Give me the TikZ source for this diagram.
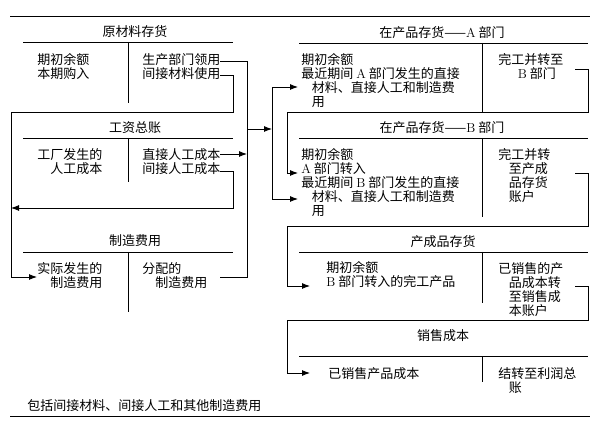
\documentclass[tikz,border=0pt]{standalone}
\usepackage{fontspec}
\newfontfamily\cjk{Noto Sans CJK SC}
\usetikzlibrary{arrows.meta}

\begin{document}
\begin{tikzpicture}[x=1pt, y=-1pt, line width=0.9pt,
    txt/.style={anchor=north west, inner sep=0pt, align=left, font=\cjk\fontsize{13}{14}\selectfont},
    ttl/.style={inner sep=0pt, font=\cjk\fontsize{13}{14}\selectfont},
    arr/.style={-{Latex[length=8pt,width=6pt]}}]
    \useasboundingbox (0,0) rectangle (598,425);

    % Define points
    \coordinate (lingyong) at (220,61);
    \coordinate (jianjieMat) at (220,75);
    \coordinate (zhijieLab) at (220,154);
    \coordinate (jianjieLab) at (220,171);
    \coordinate (fenpei) at (220,277);
    \coordinate (shiji) at (37,277);
    \coordinate (busT) at (247,61);
    \coordinate (busB) at (247,277);
    \coordinate (split) at (272,129);
    \coordinate (toA) at (298,87);
    \coordinate (toB) at (298,199);
    \coordinate (wanA) at (575,69);
    \coordinate (inA) at (298,173);
    \coordinate (wanB) at (575,173);
    \coordinate (inFG) at (310,286);
    \coordinate (wanFG) at (575,286);
    \coordinate (inCogs) at (310,373);

    % Rules
    \draw (10,16) -- (590,16);
    \draw (10,416) -- (590,416);

    % Titles
    \node[ttl] (raw) at (135,32) {原材料存货};
    \node[ttl] (wage) at (135,128) {工资总账};
    \node[ttl] (moh) at (135,241) {制造费用};
    \node[ttl] (wipA) at (442,33) {在产品存货——\textrm{A} 部门};
    \node[ttl] (wipB) at (442,128) {在产品存货——\textrm{B} 部门};
    \node[ttl] (fg) at (443,242) {产成品存货};
    \node[ttl] (cogs) at (443,336) {销售成本};

    % T accounts
    \draw (23,42) -- (233,42);   \draw (128,42) -- (128,103);
    \draw (23,138) -- (233,138); \draw (128,138) -- (128,182);
    \draw (23,252) -- (233,252); \draw (128,252) -- (128,312);
    \draw (299,43) -- (588,43);   \draw (482,43) -- (482,112);
    \draw (299,138) -- (588,138); \draw (482,138) -- (482,217);
    \draw (299,252) -- (588,252); \draw (482,252) -- (482,303);
    \draw (299,356) -- (588,356); \draw (482,356) -- (482,382);

    % Entries
    \node[txt] (rawL) at (37,53) {期初余额\\本期购入};
    \node[txt] (rawR) at (142,53) {生产部门领用\\间接材料使用};
    \node[txt] (wageL) at (37,148) {工厂发生的\\\hspace*{1em}人工成本};
    \node[txt] (wageR) at (142,148) {直接人工成本\\间接人工成本};
    \node[txt] (mohL) at (37,262) {实际发生的\\\hspace*{1em}制造费用};
    \node[txt] (mohR) at (142,262) {分配的\\\hspace*{1em}制造费用};
    \node[txt] (wipAL) at (301,53) {期初余额\\最近期间 \textrm{A} 部门发生的直接\\\hspace*{0.8em}材料、直接人工和制造费\\\hspace*{0.8em}用};
    \node[txt] (wipAR) at (498,53) {完工并转至\\\hspace*{1.5em}\textrm{B} 部门};
    \node[txt] (wipBL) at (301,148) {期初余额\\\textrm{A} 部门转入\\最近期间 \textrm{B} 部门发生的直接\\\hspace*{0.8em}材料、直接人工和制造费\\\hspace*{0.8em}用};
    \node[txt] (wipBR) at (498,148) {完工并转\\\hspace*{0.8em}至产成\\\hspace*{0.8em}品存货\\\hspace*{0.8em}账户};
    \node[txt] (fgL) at (326,261) {期初余额\\\textrm{B} 部门转入的完工产品};
    \node[txt] (fgR) at (498,262) {已销售的产\\\hspace*{0.8em}品成本转\\\hspace*{0.8em}至销售成\\\hspace*{0.8em}本账户};
    \node[txt] (cogsL) at (328,367) {已销售产品成本};
    \node[txt] (cogsR) at (498,367) {结转至利润总\\\hspace*{0.8em}账};
    \node[txt] (note) at (27,399) {包括间接材料、间接人工和其他制造费用};

    % Draw connectors
    \draw (lingyong) -- (busT) -- (busB) -- (fenpei);
    \draw[arr] (zhijieLab) -- (zhijieLab -| busT);
    \draw[arr] (busT |- split) -- (split);
    \draw[arr] (split) |- (toA);
    \draw[arr] (split) |- (toB);
    \draw[arr] (jianjieMat) -| (233,112) -- (11,112) |- (shiji);
    \draw[arr] (jianjieLab) -| (233,208) -- (11,208);
    \draw[arr] (wanA) -| (588,112) -- (287,112) |- (inA);
    \draw[arr] (wanB) -| (588,226) -- (287,226) |- (inFG);
    \draw[arr] (wanFG) -| (588,320) -- (287,320) |- (inCogs);
\end{tikzpicture}
\end{document}
